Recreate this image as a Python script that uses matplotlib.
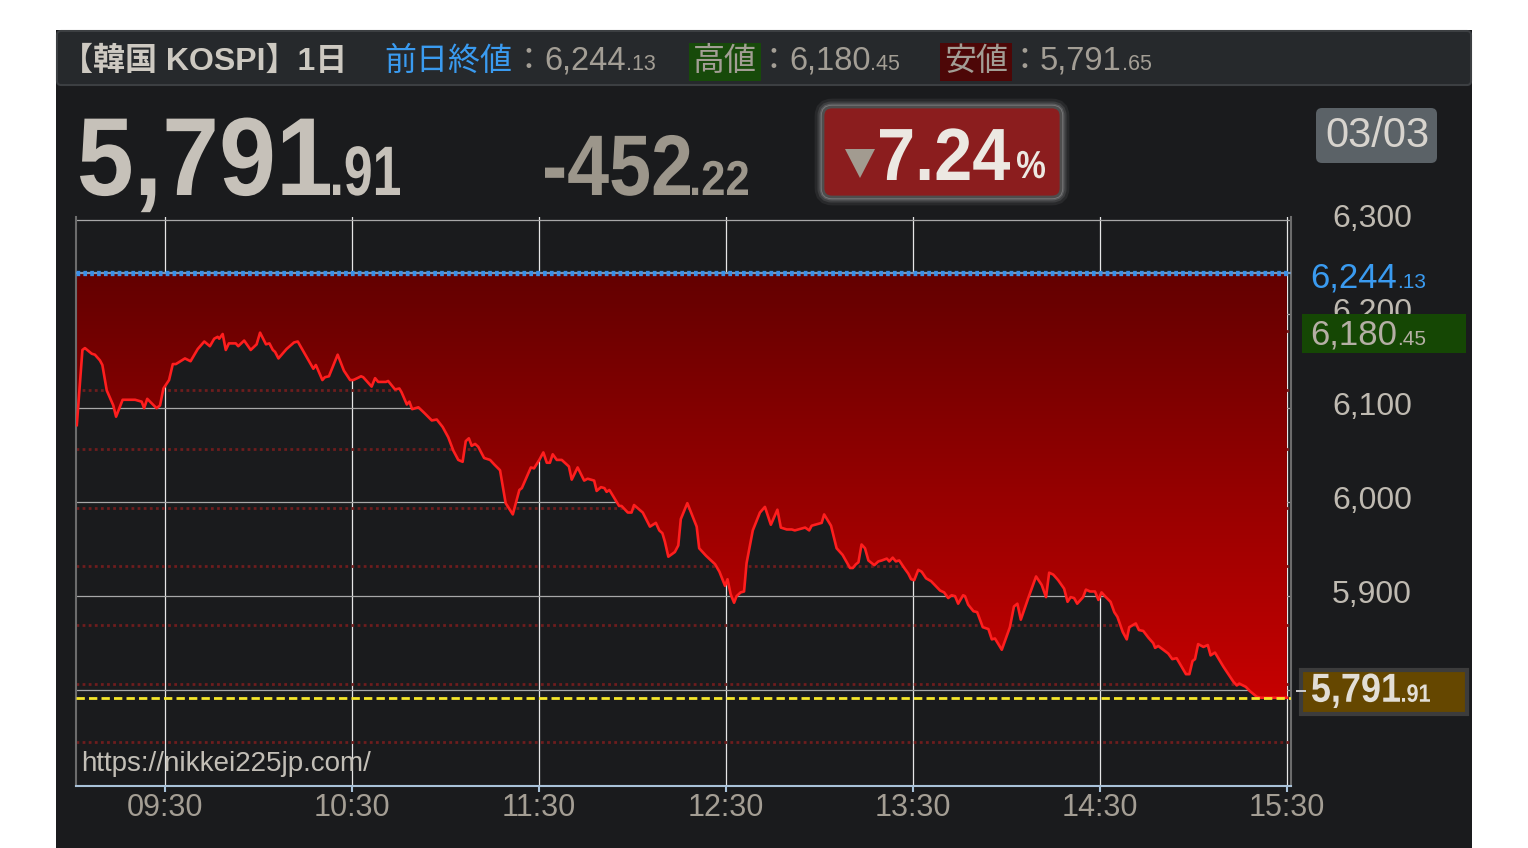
import matplotlib
matplotlib.use("Agg")
import numpy as np
import matplotlib.pyplot as plt
from matplotlib.patches import Rectangle, FancyBboxPatch, PathPatch, Polygon
from matplotlib.textpath import TextPath
from matplotlib.font_manager import FontProperties
from matplotlib.transforms import Affine2D
from matplotlib.colors import LinearSegmentedColormap

# KOSPI 1-day, minutes after 09:00
minutes = [
    1.7, 3.5, 4.3, 6.5, 7.5, 9.1, 9.9, 11.3, 13.4, 14.3, 16.4, 20.4, 22.5, 23.3, 24.3,
    27.3, 28.4, 29.5, 31.3, 32.5, 33.5, 36.4, 38.2, 40.5, 42.6, 44.4, 45.8, 46.9, 47.4,
    48.5, 49.5, 50.5, 52.7, 53.5, 55.4, 57.5, 59.4, 60.5, 62.4, 63.5, 64.6, 65.3, 66.4,
    69.0, 71.4, 72.6, 77.6, 78.4, 80.5, 81.3, 82.6, 85.4, 87.4, 89.4, 90.4, 91.7, 92.9,
    93.6, 96.3, 97.4, 98.4, 100.9, 101.6, 103.8, 105.2, 105.9, 107.6, 108.4, 109.3,
    111.3, 113.2, 115.6, 117.2, 119.1, 120.9, 122.5, 124.1, 125.5, 126.5, 127.5, 128.4,
    129.5, 130.5, 132.4, 134.3, 135.7, 137.5, 139.3, 141.6, 143.7, 144.5, 147.4, 148.4,
    150.1, 151.4, 152.5, 153.5, 154.4, 155.7, 157.3, 159.6, 160.5, 162.4, 164.5, 165.6,
    167.7, 168.5, 169.9, 171.0, 171.7, 172.6, 175.7, 176.5, 178.5, 179.7, 180.5, 183.3,
    185.6, 187.5, 188.6, 189.6, 190.4, 191.5, 193.6, 194.7, 195.5, 197.6, 200.6, 201.4,
    203.6, 206.5, 207.9, 209.7, 210.5, 211.5, 212.6, 213.4, 214.7, 215.8, 216.6, 218.6,
    220.9, 222.5, 224.4, 226.5, 227.6, 229.5, 231.1, 232.1, 234.3, 235.4, 236.7, 237.5,
    239.6, 240.7, 241.5, 243.7, 245.5, 247.4, 249.8, 250.7, 251.7, 252.5, 253.5, 254.6,
    255.7, 257.6, 258.9, 260.0, 261.6, 262.4, 263.5, 264.5, 265.6, 267.2, 268.5, 269.4,
    270.4, 271.7, 272.8, 274.2, 275.8, 278.7, 280.0, 281.3, 282.4, 283.5, 284.5, 286.1,
    286.7, 287.7, 289.4, 290.6, 292.4, 294.2, 295.3, 296.3, 298.5, 301.1, 302.4, 303.5,
    304.6, 307.0, 309.5, 311.3, 312.7, 313.7, 315.0, 316.6, 318.5, 319.6, 320.6, 321.7,
    322.7, 324.6, 325.5, 326.8, 328.4, 329.5, 330.5, 331.6, 333.4, 334.6, 335.6, 337.3,
    338.6, 339.4, 341.5, 342.5, 343.9, 345.5, 347.1, 347.7, 348.7, 350.3, 351.9, 353.2,
    354.6, 356.2, 357.6, 358.7, 359.7, 360.5, 361.5, 363.2, 364.6, 365.5, 366.9, 369.6,
    371.2, 372.8, 373.9, 374.7, 376.8, 378.1, 380.3, 381.6, 390.0,
]
prices = [
    6082, 6162, 6164, 6158, 6157, 6151, 6146, 6119, 6103, 6091, 6109, 6109, 6107, 6100, 6110,
    6100, 6103, 6121, 6130, 6147, 6147, 6153, 6150, 6163, 6171, 6166, 6174, 6176, 6174,
    6179, 6162, 6169, 6169, 6166, 6172, 6162, 6168, 6180.45, 6168, 6169, 6162, 6160, 6153,
    6163, 6170, 6171, 6142, 6146, 6130, 6133, 6134, 6157, 6140, 6130, 6130, 6132, 6134,
    6133, 6123, 6132, 6128, 6128, 6129, 6120, 6121, 6117, 6104, 6107, 6099,
    6101, 6095, 6087, 6088, 6080, 6069, 6055, 6045, 6043, 6065, 6068, 6060,
    6062, 6059, 6047, 6045, 6040, 6034, 5999, 5987, 6013, 6015, 6037, 6036,
    6045, 6053, 6042, 6042, 6051, 6045, 6045, 6038, 6024, 6037, 6023, 6025,
    6023, 6012, 6016, 6015, 6011, 6013, 5996, 5996, 5989, 5989, 5997, 5989,
    5974, 5978, 5970, 5967, 5958, 5942, 5947, 5954, 5982, 5999, 5974, 5951,
    5943, 5934, 5926, 5911, 5918, 5902, 5893, 5900, 5904, 5905, 5935, 5970,
    5989, 5995, 5976, 5992, 5973, 5971, 5971, 5970, 5972, 5973, 5970, 5975,
    5977, 5978, 5987, 5975, 5951, 5944, 5930, 5930, 5934, 5936, 5955, 5951,
    5938, 5933, 5937, 5938, 5940, 5937, 5941, 5937, 5938, 5930, 5924, 5918,
    5917, 5928, 5926, 5919, 5916, 5906, 5904, 5898, 5901, 5900, 5892, 5901,
    5900, 5891, 5884, 5883, 5867, 5865, 5854, 5855, 5843, 5867, 5889, 5892,
    5875, 5898, 5921, 5912, 5899, 5925, 5923, 5917, 5908, 5894, 5899, 5898,
    5892, 5899, 5907, 5905, 5905, 5896, 5904, 5900, 5894, 5883, 5878, 5862,
    5854, 5867, 5871, 5864, 5863, 5856, 5850, 5845, 5847, 5843, 5839, 5833,
    5834, 5825, 5817, 5817, 5831, 5833, 5849, 5846, 5848, 5837, 5840, 5825,
    5817, 5809, 5805, 5807, 5803.5, 5799, 5793, 5791.9, 5791.91,
]
prev_close = 6244.13
day_high = 6180.45
day_low = 5791.65
y_ticks = [5800, 5900, 6000, 6100, 6200, 6300]
x_ticks = ["09:30", "10:30", "11:30", "12:30", "13:30", "14:30", "15:30"]
pct_steps = [1, 2, 3, 4, 5, 6, 7, 8]
title = "【韓国 KOSPI】1日"
date_label = "03/03"
source = "https://nikkei225jp.com/"

BG = "#1a1b1d"
NUM = "Liberation Sans"
JP = "Noto Sans CJK JP"
W, H = 1528, 848

last = prices[-1]
change = last - prev_close
pct = change / prev_close * 100


def split(v):
    s = f"{v:,.2f}"
    return s[:-3], s[-3:]


fig = plt.figure(figsize=(W / 100, H / 100), dpi=100)
fig.patch.set_facecolor("white")
T = Affine2D().scale(1, -1).translate(0, H)  # pixel coords from top-left
rend = fig.canvas.get_renderer()
BOLD = FontProperties(family=NUM, weight="bold")

fig.add_artist(Rectangle((56, 30), 1416, 818, transform=T, fc=BG, ec="none", zorder=-10))

ax = fig.add_axes([76 / W, 1 - 786 / H, 1215 / W, 569 / H])
ax.set_facecolor(BG)
ax.set_axisbelow(True)

for k in pct_steps:
    ax.axhline(prev_close * (1 - k / 100), color="#6e1d1d", lw=2.0,
               dashes=(1.0, 1.2), zorder=1)

poly = ax.fill_between(minutes, prices, prev_close, color="none", lw=0)
cmap = LinearSegmentedColormap.from_list("fill", ["#630000", "#c60000"])
grad = np.linspace(0, 1, 256).reshape(-1, 1)
im = ax.imshow(grad, extent=[minutes[0], minutes[-1], min(prices), prev_close],
               cmap=cmap, aspect="auto", origin="upper", zorder=2)
im.set_clip_path(poly.get_paths()[0], transform=ax.transData)

ax.plot(minutes, prices, color="#ff1e1e", lw=1.9, zorder=4)
ax.axhline(prev_close, color="#7d98b5", lw=1.6, zorder=5)
ax.axhline(prev_close, color="#3a8fe8", lw=3.8, dashes=(0.7, 0.6), zorder=6)
ax.axhline(last, color="#f5e62a", lw=2.0, dashes=(3.0, 1.5), zorder=6)

xpos = [int(t[:2]) * 60 + int(t[3:]) - 540 for t in x_ticks]
ax.set_xticks(xpos)
ax.set_xticklabels(x_ticks)
ax.set_yticks(y_ticks)
ax.yaxis.tick_right()
ax.tick_params(axis="y", length=0, labelright=False)
ax.set_xlim(1.44, 391.3)
ax.set_ylim(5698, 6303.5)

ax.xaxis.grid(True, color="#e6e6e6", lw=0.9)
ax.yaxis.grid(True, color="#a8a8a8", lw=0.9)
ax.tick_params(axis="x", length=4, width=1.5, color="#a9c2d9", pad=1,
               labelsize=22, labelcolor="#a49e94")
for lab in ax.get_xticklabels():
    lab.set_family(NUM)
ax.spines["top"].set_visible(False)
ax.spines["left"].set_color("#6c6c6c")
ax.spines["right"].set_color("#6c6c6c")
ax.spines["bottom"].set_color("#a9c2d9")
for s in ax.spines.values():
    s.set_linewidth(1.5)


def seq(x, y, parts):
    for p in parts:
        s, size, color = p[:3]
        opts = p[3] if len(p) > 3 else {}
        t = fig.text(x, y, s, transform=T, fontsize=size, color=color, va="baseline",
                     ha="left", family=[NUM, JP], zorder=8, **opts)
        x += t.get_window_extent(rend).width
    return x


def squeeze(x, y, s, em, color, width):
    tp = TextPath((0, 0), s, size=em, prop=BOLD)
    ext = tp.get_extents()
    tr = Affine2D().translate(-ext.x0, 0).scale(width / ext.width, 1).translate(x, H - y)
    fig.add_artist(PathPatch(tp, transform=tr, fc=color, ec="none", zorder=9))


def ypix(v):
    return H - ax.transData.transform((0, v))[1]


# right axis labels
for v in y_ticks:
    fig.text(1332, ypix(v) - 4.5, f"{v:,}", transform=T, fontsize=23, color="#bfbab1",
             family=NUM, ha="left", va="center_baseline", zorder=7)

# header bar
fig.add_artist(FancyBboxPatch((57, 31), 1414, 54, boxstyle="round,pad=0,rounding_size=4",
                              transform=T, fc="#26292c", ec="#3c3f42", lw=1.5, zorder=7))
GRAY = "#a39e95"
seq(61, 70, [(title, 23, "#cdc9c1", {"weight": "bold"})])
a, b = split(prev_close)
seq(384, 70, [("前日終値", 23, "#3a9bf0"), ("：", 23, GRAY), (a, 23.5, GRAY), (b, 15.5, GRAY)])
a, b = split(day_high)
seq(693, 70, [("高値", 23, GRAY, {"bbox": dict(boxstyle="square,pad=0.12", fc="#174a0a", ec="none")}),
              ("：", 23, GRAY), (a, 23.5, GRAY), (b, 15.5, GRAY)])
a, b = split(day_low)
seq(944, 70, [("安値", 23, GRAY, {"bbox": dict(boxstyle="square,pad=0.12", fc="#4d0707", ec="none")}),
              ("：", 23, GRAY), (a, 23.5, GRAY), (b, 15.5, GRAY)])

# big numbers
a, b = split(last)
squeeze(80, 195, a, 111, "#c6c1b9", 250)
squeeze(333, 195, b, 70, "#c6c1b9", 67)
a, b = split(change)
squeeze(545, 195, a, 86, "#9c968b", 145)
squeeze(692, 195, b, 49, "#9c968b", 56)

for lw, al in [(12, 0.08), (8, 0.12), (5, 0.18), (3, 0.3)]:
    fig.add_artist(FancyBboxPatch((823, 107), 238, 90, boxstyle="round,pad=0,rounding_size=9",
                                  transform=T, fc="none", ec="#d8d8d8", lw=lw, alpha=al, zorder=8))
fig.add_artist(FancyBboxPatch((823, 107), 238, 90, boxstyle="round,pad=0,rounding_size=9",
                              transform=T, fc="#8b1d1e", ec="#4e4e4e", lw=2, zorder=8))
fig.add_artist(Polygon([(845, 149), (875, 149), (860, 178)], transform=T, fc="#a29b90",
                       ec="none", zorder=9))
squeeze(880, 180, f"{abs(pct):.2f}", 74, "#ece8e2", 130)
squeeze(1017, 178, "%", 39, "#ece8e2", 28)

fig.add_artist(FancyBboxPatch((1316, 108), 121, 55, boxstyle="round,pad=0,rounding_size=6",
                              transform=T, fc="#5b6267", ec="none", zorder=8))
fig.text(1377, 136, date_label, transform=T, fontsize=30, color="#d8d4ce", family=NUM,
         ha="center", va="center", zorder=9)

# right-hand value tags
yp = ypix(prev_close)
a, b = split(prev_close)
seq(1310, yp + 15, [(a, 25, "#3a9bf0"), (b, 15, "#3a9bf0")])
yh = ypix(day_high)
fig.add_artist(Rectangle((1302, yh - 19), 164, 39, transform=T, fc="#154704", ec="none", zorder=8))
a, b = split(day_high)
seq(1310, yh + 12, [(a, 25, "#b5afa5"), (b, 15, "#b5afa5")])
yl = ypix(last)
fig.add_artist(Rectangle((1301, yl - 28), 166, 44, transform=T, fc="#654700", ec="#3c3c3c",
                         lw=3, zorder=8))
fig.add_artist(Rectangle((1296, yl - 7.5), 10, 2, transform=T, fc="#c8c8c8", ec="none", zorder=9))
a, b = split(last)
squeeze(1312, yl + 4, a, 40.5, "#e2ded6", 88)
squeeze(1402, yl + 4, b, 25, "#e2ded6", 28)

fig.text(81, 771, source, transform=T, fontsize=20, color="#c2beb6", family=NUM, zorder=8)

fig.savefig("out.png", dpi=100, facecolor=fig.get_facecolor())
